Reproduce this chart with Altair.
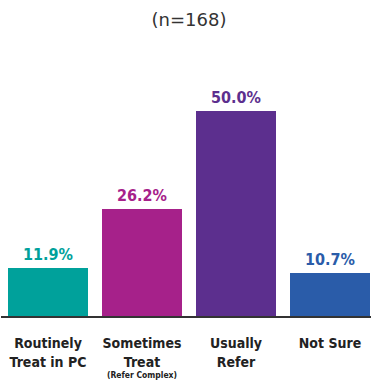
import altair as alt
import pandas as pd

categories = ["Routinely Treat in PC", "Sometimes Treat", "Usually Refer", "Not Sure"]
line1 = ["Routinely", "Sometimes", "Usually", "Not Sure"]
line2 = ["Treat in PC", "Treat", "Refer", ""]
sublabels = ["", "(Refer Complex)", "", ""]
values = [11.9, 26.2, 50.0, 10.7]
colors = ["#00A19B", "#A6218A", "#5C2F8E", "#2A5CA9"]

df = pd.DataFrame({
    "cat": categories,
    "l1": line1,
    "l2": line2,
    "sub": sublabels,
    "value": values,
    "label": [f"{v:.1f}%" for v in values],
})

W = 370
H = 206
FONT = "DejaVu Sans Condensed, Roboto, sans-serif"

x = alt.X("cat:N", sort=categories, axis=None,
          scale=alt.Scale(range=[0, 376], paddingInner=14 / 94, paddingOuter=7 / 94))
y = alt.Y("value:Q", axis=None, scale=alt.Scale(domain=[0, 50], nice=False))
color = alt.Color("cat:N", scale=alt.Scale(domain=categories, range=colors), legend=None)

base = alt.Chart(df)

bars = base.mark_bar().encode(x=x, y=y, color=color)

vals = base.mark_text(font=FONT, fontWeight="bold", fontSize=16, baseline="alphabetic",
                      dy=-8).encode(x=x, y=y, text="label:N", color=color)

baseline = alt.Chart(pd.DataFrame({"v": [0]})).mark_rule(color="#333333", strokeWidth=2).encode(
    y=alt.Y("v:Q", scale=alt.Scale(domain=[0, 50], nice=False), axis=None),
    x=alt.value(0), x2=alt.value(W))

lab1 = base.mark_text(font=FONT, fontWeight="bold", fontSize=14, baseline="alphabetic",
                      color="#222222").encode(x=x, y=alt.value(H + 31), text="l1:N")
lab2 = base.mark_text(font=FONT, fontWeight="bold", fontSize=14, baseline="alphabetic",
                      color="#222222").encode(x=x, y=alt.value(H + 50), text="l2:N")
lab3 = base.mark_text(font=FONT, fontWeight="bold", fontSize=8.5, baseline="alphabetic",
                      color="#222222").encode(x=x, y=alt.value(H + 61), text="sub:N")

title = alt.Chart(pd.DataFrame({"t": ["(n=168)"]})).mark_text(
    font="DejaVu Sans", fontSize=18, baseline="middle", color="#333333"
).encode(x=alt.value(188), y=alt.value(-90), text="t:N")

chart = alt.layer(bars, baseline, vals, lab1, lab2, lab3, title).properties(
    width=W, height=H,
    padding={"left": 1, "top": 111, "right": 0, "bottom": 64},
    autosize=alt.AutoSizeParams(type="none"),
).configure_view(stroke=None)

chart.save("out.html", embed_options={"renderer": "svg", "actions": False})
